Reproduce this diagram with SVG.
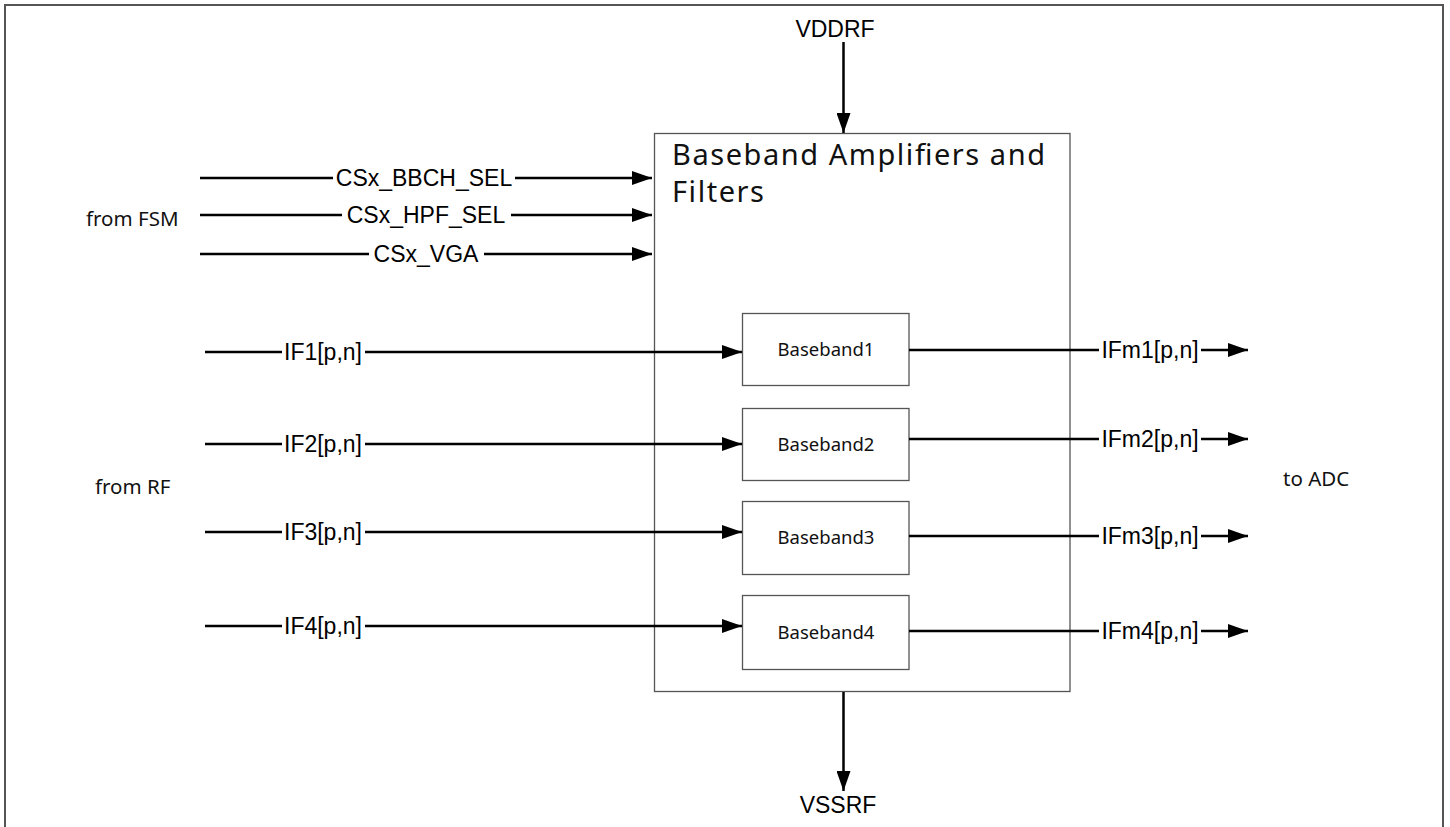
<svg xmlns="http://www.w3.org/2000/svg" width="1450" height="827" viewBox="0 0 1450 827">
<style>
.box{fill:#fff;stroke:#555;stroke-width:1.3}
.wire{fill:none;stroke:#000;stroke-width:2.5}
.sig{font-family:"Liberation Sans",Arial,sans-serif;font-size:23px;fill:#000;text-anchor:middle}
.lbl{font-family:"Noto Sans","Open Sans",sans-serif;font-size:20.5px;fill:#111}
.bb{font-family:"Noto Sans","Open Sans",sans-serif;font-size:18.5px;fill:#111;text-anchor:middle}
.title{font-family:"Noto Sans","Open Sans",sans-serif;font-size:29px;fill:#111}
</style>
<defs>
<marker id="ah" markerWidth="20" markerHeight="14" refX="20" refY="7" orient="auto" markerUnits="userSpaceOnUse">
<path d="M0,0 L20,7 L0,14 Z" fill="#000"/>
</marker>
</defs>
<rect x="0" y="0" width="1450" height="827" fill="#fff"/>
<rect x="5" y="5" width="1438" height="900" fill="none" stroke="#555" stroke-width="2"/>
<g id="main">
<rect class="box" x="654.5" y="133.5" width="415.5" height="558"/>
<text class="title" x="672" y="165" textLength="373" lengthAdjust="spacing">Baseband Amplifiers and</text>
<text class="title" x="672" y="202" textLength="92" lengthAdjust="spacing">Filters</text>
</g>
<g id="bb1"><rect class="box" x="742.5" y="313.5" width="166.5" height="72"/><text class="bb" x="826" y="356">Baseband1</text></g>
<g id="bb2"><rect class="box" x="742.5" y="408.5" width="166.5" height="72"/><text class="bb" x="826" y="451">Baseband2</text></g>
<g id="bb3"><rect class="box" x="742.5" y="501.5" width="166.5" height="73"/><text class="bb" x="826" y="544">Baseband3</text></g>
<g id="bb4"><rect class="box" x="742.5" y="595.5" width="166.5" height="74"/><text class="bb" x="826" y="639">Baseband4</text></g>
<g id="connectors">
<path class="wire" d="M843.5,42 V133" marker-end="url(#ah)"/>
<path class="wire" d="M843.5,692 V791" marker-end="url(#ah)"/>
<path class="wire" d="M200,178 H333 M515,178 H652" marker-end="url(#ah)"/>
<path class="wire" d="M200,215 H342 M511,215 H652" marker-end="url(#ah)"/>
<path class="wire" d="M200,254 H369 M484,254 H652" marker-end="url(#ah)"/>
<path class="wire" d="M205,352 H282 M365,352 H742" marker-end="url(#ah)"/>
<path class="wire" d="M205,444 H282 M365,444 H742" marker-end="url(#ah)"/>
<path class="wire" d="M205,532 H282 M365,532 H742" marker-end="url(#ah)"/>
<path class="wire" d="M205,626 H282 M365,626 H742" marker-end="url(#ah)"/>
<path class="wire" d="M909,350 H1099 M1201,350 H1248" marker-end="url(#ah)"/>
<path class="wire" d="M909,439 H1099 M1201,439 H1248" marker-end="url(#ah)"/>
<path class="wire" d="M909,536 H1099 M1201,536 H1248" marker-end="url(#ah)"/>
<path class="wire" d="M909,631 H1099 M1201,631 H1248" marker-end="url(#ah)"/>
</g>
<g id="labels">
<text class="sig" x="835" y="37">VDDRF</text>
<text class="sig" x="838" y="813">VSSRF</text>
<text class="sig" x="424" y="186">CSx_BBCH_SEL</text>
<text class="sig" x="426" y="223">CSx_HPF_SEL</text>
<text class="sig" x="426" y="262">CSx_VGA</text>
<text class="sig" x="323" y="360">IF1[p,n]</text>
<text class="sig" x="323" y="452">IF2[p,n]</text>
<text class="sig" x="323" y="540">IF3[p,n]</text>
<text class="sig" x="323" y="634">IF4[p,n]</text>
<text class="sig" x="1150" y="358">IFm1[p,n]</text>
<text class="sig" x="1150" y="447">IFm2[p,n]</text>
<text class="sig" x="1150" y="544">IFm3[p,n]</text>
<text class="sig" x="1150" y="639">IFm4[p,n]</text>
<text class="lbl" x="86" y="226">from FSM</text>
<text class="lbl" x="95" y="494">from RF</text>
<text class="lbl" x="1283" y="486">to ADC</text>
</g>
</svg>
